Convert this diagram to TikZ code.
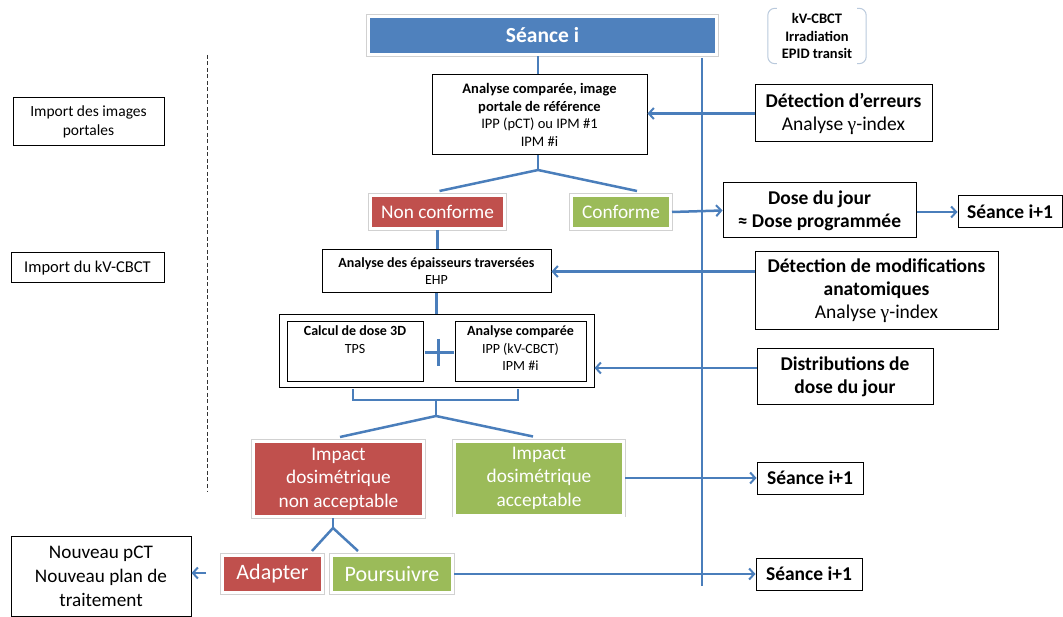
\documentclass[tikz,border=0pt]{standalone}
\usepackage{fontspec}
\setmainfont{Carlito}
\newfontfamily\gfont{Liberation Serif}
\usetikzlibrary{arrows.meta,shadows,calc}
\definecolor{cblue}{HTML}{4F81BD}
\definecolor{lblue}{HTML}{4A7EBB}
\definecolor{cred}{HTML}{C0504D}
\definecolor{cgreen}{HTML}{9BBB59}
\definecolor{brk}{HTML}{B9C9DC}
\newcommand{\fsz}[2]{\fontsize{#1}{#2}\selectfont}
\newcommand{\gam}{{\gfont γ}}
\begin{document}
\begin{tikzpicture}[x=1pt,y=-1pt,
  conn/.style={draw=lblue, line width=2.5pt},
  arr/.style={conn, -{Straight Barb[length=5pt,width=11pt,line width=2pt]}},
  box/.style={draw=black, line width=1pt, fill=white, inner sep=0pt, align=center},
  txt/.style={inner sep=0pt, align=center},
  colbox/.style={fill=#1, draw=white, line width=3pt, text=white, inner sep=0pt, align=center,
     drop shadow={shadow xshift=1.2pt, shadow yshift=-1.5pt, opacity=0.3},
     preaction={draw=black!18, line width=4.6pt}},
  sz/.style 2 args={minimum width=#1pt, minimum height=#2pt},
]
\useasboundingbox (0,0) rectangle (1063,617);

% left column
\node[box, sz={151}{48}, font=\fsz{15.5}{18.5}] (imp1) at (88.5,122) {Import des images\\portales};
\node[box, sz={153}{30}, font=\fsz{16.5}{18}] (imp2) at (87.5,268) {Import du kV-CBCT};
\coordinate (dtop) at (207,55);
\coordinate (dbot) at (207,492);
\draw[line width=1pt, dash pattern=on 4pt off 2.5pt, black!80] (dtop) -- (dbot);

% main vertical
\coordinate (vtop) at (702,58);
\coordinate (vbot) at (702,586);
\draw[conn] (vtop) -- (vbot);

% top
\node[colbox=cblue, sz={348}{38}, font=\bfseries\fsz{21.5}{24}] (seance) at (542.5,35.5) {Séance i};
\node[txt, sz={98}{55}, font=\bfseries\fsz{14.5}{17.5}] (kv) at (817,36) {kV-CBCT\\Irradiation\\EPID transit};
\draw[brk, line width=1pt, rounded corners=7pt] ($(kv.north west)+(9,0)$) -- (kv.north west) -- (kv.south west) -- ($(kv.south west)+(9,0)$);
\draw[brk, line width=1pt, rounded corners=7pt] ($(kv.north east)+(-9,0)$) -- (kv.north east) -- (kv.south east) -- ($(kv.south east)+(-9,0)$);

\node[box, sz={215}{80}, font=\fsz{14.5}{17.5}] (ana1) at (539.5,115) {\textbf{Analyse comparée, image}\\\textbf{portale de référence}\\IPP (pCT) ou IPM \#1\\IPM \#i};
\node[box, sz={177}{57}, font=\fsz{19.5}{23}] (err) at (843.5,113.5) {\textbf{Détection d’erreurs}\\Analyse \gam-index};

\node[colbox=cred, sz={134}{33}, font=\fsz{19.3}{23}] (nc) at (437.5,212) {Non conforme};
\node[colbox=cgreen, sz={99}{33}, font=\fsz{19.3}{23}] (cf) at (621,212) {Conforme};
\node[box, sz={193}{55}, font=\bfseries\fsz{19.5}{23}] (dose) at (819.5,210.5) {Dose du jour\\≈ Dose programmée};
\node[box, sz={104}{32}, font=\bfseries\fsz{19.5}{20}] (s1) at (1010,212) {Séance i+1};

\node[box, sz={229}{43}, font=\fsz{14}{17}] (ehp) at (436.5,271.5) {\textbf{Analyse des épaisseurs traversées}\\EHP};
\node[box, sz={243}{78}, font=\fsz{19.5}{23}] (modif) at (876.5,291) {\textbf{Détection de modifications}\\\textbf{anatomiques}\\Analyse \gam-index};

\node[box, sz={315}{73}] (outer) at (436.5,351.5) {};
\node[box, sz={136}{60}] (tps) at (355,352) {};
\node[txt, anchor=north, font=\fsz{14}{17.5}] (tpst) at ($(tps.north)+(0,4)$) {\textbf{Calcul de dose 3D}\\TPS};
\node[box, sz={131}{60}] (ana2) at (520.5,352) {};
\node[txt, anchor=north, font=\fsz{14}{17.5}] (ana2t) at ($(ana2.north)+(0,4)$) {\textbf{Analyse comparée}\\IPP (kV-CBCT)\\IPM \#i};
\coordinate (plusc) at (438.5,353);
\draw[conn, line width=3pt] ($(plusc)+(-14,0)$) -- ($(plusc)+(15,0)$);
\draw[conn, line width=3pt] ($(plusc)+(0,-14)$) -- ($(plusc)+(0,13)$);

\node[box, sz={176}{56}, font=\bfseries\fsz{19.5}{23}] (dist) at (845,377) {Distributions de\\dose du jour};

\node[colbox=cred, sz={170}{75}, font=\fsz{19.3}{23.5}] (imna) at (338.5,479) {Impact\\dosimétrique\\non acceptable};
\node[colbox=cgreen, sz={169}{74}, font=\fsz{19.3}{23.5}] (ima) at (539,478) {Impact\\dosimétrique\\acceptable};
\node[box, sz={106}{32}, font=\bfseries\fsz{19.5}{20}] (s2) at (810,478) {Séance i+1};

\node[colbox=cred, sz={100}{37}, font=\fsz{22}{24}] (ad) at (272.5,574) {Adapter};
\node[colbox=cgreen, sz={121}{37}, font=\fsz{22}{24}] (po) at (392,574) {Poursuivre};
\node[box, sz={106}{32}, font=\bfseries\fsz{19.5}{20}] (s3) at (809,574) {Séance i+1};
\node[box, sz={180}{80}, font=\fsz{19.2}{24}] (nv) at (101,576) {Nouveau pCT\\Nouveau plan de\\traitement};

% connectors
\draw[conn] (ana1.north -| 538,0) -- (seance.south -| 538,0);
\draw[arr] (err.west) -- (err.west -| ana1.east);
\coordinate (b1) at (538,170);
\draw[conn] (ana1.south -| b1) -- (b1);
\draw[conn] (b1) -- ([xshift=2pt,yshift=3pt]nc.north);
\draw[conn] (b1) -- ([xshift=16pt,yshift=3pt]cf.north);
\draw[arr] (cf.east) -- (dose.west);
\draw[arr] (dose.east |- s1.west) -- (s1.west);
\draw[conn] (nc.south) -- (ehp.north -| nc.south);
\draw[arr] (ehp.east -| modif.west) -- (ehp.east);
\draw[conn] (ehp.south) -- (outer.north -| ehp.south);
\draw[arr] ([yshift=9pt]dist.west) -- ([yshift=9pt]dist.west -| outer.east);
\coordinate (bl) at (353,389);
\coordinate (br) at (518,389);
\coordinate (b2) at (436,416);
\draw[conn] (bl) -- (353,400) -- (518,400) -- (br);
\draw[conn] (436,400) -- (b2);
\draw[conn] (b2) -- ([xshift=1.5pt,yshift=3pt]imna.north);
\draw[conn] (b2) -- ([xshift=-6pt,yshift=3pt]ima.north);
\draw[arr] (ima.east) -- (ima.east -| s2.west);
\coordinate (b3) at (333,528);
\draw[conn] (imna.south -| b3) -- (b3);
\draw[conn] (b3) -- ([xshift=39.5pt,yshift=3pt]ad.north);
\draw[conn] (b3) -- ([xshift=-34pt,yshift=3pt]po.north);
\draw[arr] (po.east) -- (po.east -| s3.west);
\draw[arr] ([xshift=-15pt,yshift=1pt]ad.west) -- ([yshift=1pt]ad.west -| nv.east);
\end{tikzpicture}
\end{document}
